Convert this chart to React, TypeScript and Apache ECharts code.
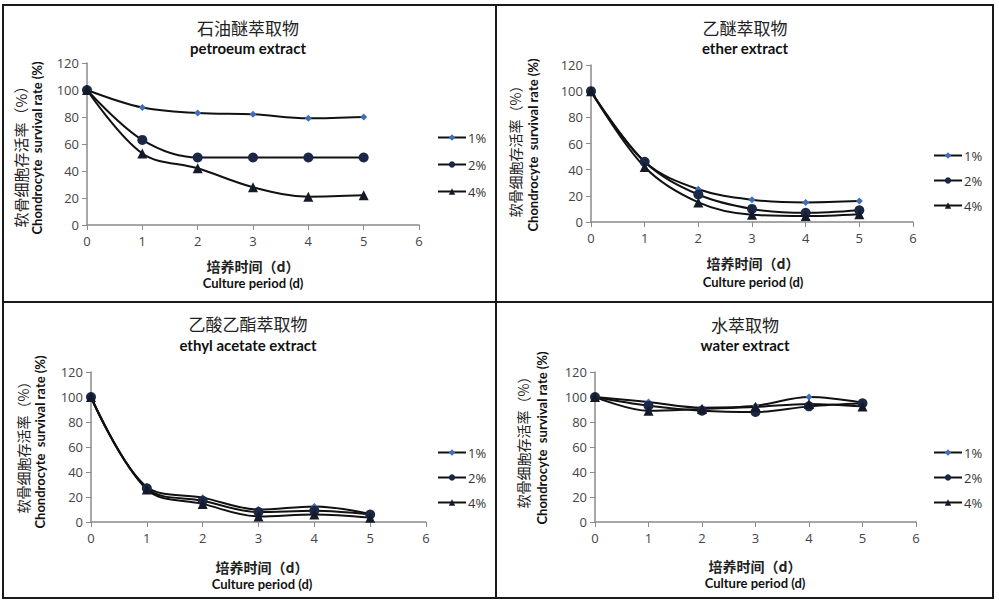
import React, { useEffect, useRef } from "react";
import * as echarts from "echarts";

const days = [0, 1, 2, 3, 4, 5];
const seriesNames = ["1%", "2%", "4%"];

const petroleum1 = [100, 87, 83, 82, 79, 80];
const petroleum2 = [100, 63, 50, 50, 50, 50];
const petroleum4 = [100, 53, 42, 28, 21, 22];

const ether1 = [100, 46, 25, 17, 15, 16];
const ether2 = [100, 46, 21, 10, 7, 9];
const ether4 = [100, 42, 15, 5.5, 4.5, 6];

const ethyl1 = [100, 28, 19.5, 10, 12.5, 6.5];
const ethyl2 = [100, 27, 17, 8, 9, 6];
const ethyl4 = [100, 26, 14.5, 4.5, 6, 3.5];

const water1 = [100, 96, 91.5, 93, 100, 95.5];
const water2 = [100, 93, 89, 88, 92.5, 95];
const water4 = [100, 89, 90.5, 92, 94.5, 92.5];

const yTicks = { min: 0, max: 120, interval: 20 };
const xTicks = { min: 0, max: 6, interval: 1 };

const panels = [
  { cn: "石油醚萃取物", en: "petroeum extract", data: [petroleum1, petroleum2, petroleum4] },
  { cn: "乙醚萃取物", en: "ether extract", data: [ether1, ether2, ether4] },
  { cn: "乙酸乙酯萃取物", en: "ethyl acetate extract", data: [ethyl1, ethyl2, ethyl4] },
  { cn: "水萃取物", en: "water extract", data: [water1, water2, water4] },
];

const layout = [
  { grid: { left: 87, top: 63, width: 332, height: 162 }, titleX: 248, titleY: [27, 48], xl: { x: 253, y: [266, 283] }, yl: { cn: [20, 153], en: [37, 148] }, legend: { left: 432, top: 126, gap: 14 }, cnSize: 15 },
  { grid: { left: 591, top: 65, width: 322, height: 157 }, titleX: 745, titleY: [27, 48], xl: { x: 753, y: [263, 282] }, yl: { cn: [515, 148], en: [533, 145] }, legend: { left: 928, top: 144, gap: 12 }, cnSize: 14 },
  { grid: { left: 91, top: 372, width: 335, height: 150 }, titleX: 248, titleY: [323, 345], xl: { x: 262, y: [567, 584] }, yl: { cn: [23, 444], en: [40, 442] }, legend: { left: 432, top: 441, gap: 12 }, cnSize: 14 },
  { grid: { left: 595, top: 372, width: 321, height: 150 }, titleX: 745, titleY: [324, 345], xl: { x: 755, y: [566, 583] }, yl: { cn: [523, 439], en: [542, 438] }, legend: { left: 928, top: 441, gap: 12 }, cnSize: 14 },
];

const symbols = ["diamond", "circle", "triangle"];
const symbolSizes = [7, 10, 10];
const symbolColors = ["#3f6fb8", "#1b2747", "#151a28"];

export default function App() {
  const ref = useRef<HTMLDivElement>(null);
  useEffect(() => {
    document.body.style.margin = "0";
    const chart = echarts.init(ref.current!, null, { renderer: "svg" });
    const grids: any[] = [];
    const xAxes: any[] = [];
    const yAxes: any[] = [];
    const series: any[] = [];
    const legends: any[] = [];
    const graphics: any[] = [];
    const axisLabel = { color: "#444", fontSize: 13, fontFamily: "Open Sans" };
    const axisLine = { show: true, lineStyle: { color: "#8a8a8a", width: 1.5 } };

    panels.forEach((p, i) => {
      const L = layout[i];
      grids.push({ ...L.grid });
      xAxes.push({
        type: "value", gridIndex: i, ...xTicks,
        axisLine, axisTick: { show: true, length: 5, lineStyle: { color: "#8a8a8a" } },
        axisLabel: { ...axisLabel, margin: 9 }, splitLine: { show: false },
      });
      yAxes.push({
        type: "value", gridIndex: i, ...yTicks,
        axisLine, axisTick: { show: true, length: 5, lineStyle: { color: "#8a8a8a" } },
        axisLabel: { ...axisLabel, margin: 8 }, splitLine: { show: false },
      });
      p.data.forEach((vals, k) => {
        series.push({
          type: "line", name: seriesNames[k], xAxisIndex: i, yAxisIndex: i,
          data: days.map((d, j) => [d, vals[j]]),
          smooth: 0.35, symbol: symbols[k], symbolSize: symbolSizes[k],
          itemStyle: { color: symbolColors[k] },
          lineStyle: { color: "#111", width: 2 },
        });
      });
      legends.push({
        data: seriesNames, orient: "vertical", left: L.legend.left, top: L.legend.top,
        itemGap: L.legend.gap, itemWidth: 28, itemHeight: 8,
        textStyle: { color: "#333", fontSize: 13, fontFamily: "Open Sans", padding: [0, 0, 0, -3] },
        selectedMode: false,
      });
      graphics.push(
        { type: "text", x: L.titleX, y: L.titleY[0], style: { text: p.cn, fill: "#222", font: "17px 'Noto Sans CJK SC'", align: "center", verticalAlign: "middle" } },
        { type: "text", x: L.titleX, y: L.titleY[1], style: { text: p.en, fill: "#111", font: "bold 15px Lato", align: "center", verticalAlign: "middle" } },
        { type: "text", x: L.xl.x, y: L.xl.y[0], style: { text: "培养时间（d）", fill: "#222", font: "bold 14px 'Noto Sans CJK SC'", align: "center", verticalAlign: "middle" } },
        { type: "text", x: L.xl.x, y: L.xl.y[1], style: { text: "Culture period (d)", fill: "#111", font: "bold 13px Lato", align: "center", verticalAlign: "middle" } },
        { type: "text", x: L.yl.cn[0], y: L.yl.cn[1], rotation: Math.PI / 2, style: { text: "软骨细胞存活率（%）", fill: "#222", font: `${L.cnSize}px 'Noto Sans CJK SC'`, align: "center", verticalAlign: "middle" } },
        { type: "text", x: L.yl.en[0], y: L.yl.en[1], rotation: Math.PI / 2, style: { text: "Chondrocyte  survival rate (%)", fill: "#111", font: "bold 13px Lato", align: "center", verticalAlign: "middle" } },
      );
    });

    const boxes = [
      [3, 5, 493, 297],
      [496, 5, 497, 297],
      [3, 302, 493, 296],
      [496, 302, 497, 296],
    ];
    boxes.forEach(([x, y, w, h]) => {
      graphics.push({ type: "rect", shape: { x, y, width: w, height: h }, style: { fill: "none", stroke: "#1a1a1a", lineWidth: 2 }, silent: true });
    });

    chart.setOption({
      animation: false,
      backgroundColor: "#fff",
      grid: grids,
      xAxis: xAxes,
      yAxis: yAxes,
      legend: legends,
      series,
      graphic: graphics,
    });
    return () => chart.dispose();
  }, []);
  return <div ref={ref} style={{ width: 999, height: 606 }} />;
}
